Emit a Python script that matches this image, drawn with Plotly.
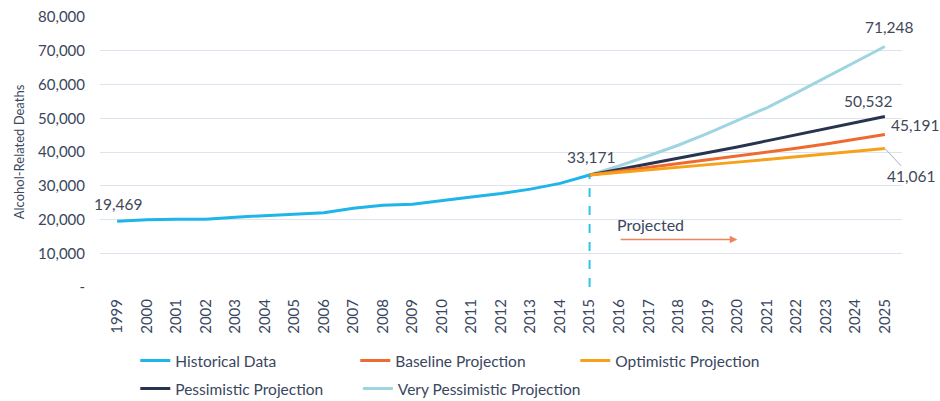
import plotly.graph_objects as go

years_hist = list(range(1999, 2016))
historical = [19469, 19900, 20100, 20100, 20700, 21100, 21700, 22000, 23300,
              24200, 24500, 25700, 26700, 27700, 29000, 30700, 33171]

years_proj = list(range(2015, 2026))
baseline = [33171, 34300, 35400, 36500, 37600, 38700, 39900, 41100, 42400, 43700, 45191]
optimistic = [33171, 33900, 34700, 35400, 36200, 37000, 37800, 38600, 39400, 40200, 41061]
pessimistic = [33171, 34800, 36500, 38200, 39800, 41500, 43300, 45100, 46900, 48700, 50532]
very_pessimistic = [33171, 35900, 38900, 42000, 45500, 49200, 53100, 57500, 62000, 66600, 71248]

all_years = list(range(1999, 2026))
y_ticks = [0, 10000, 20000, 30000, 40000, 50000, 60000, 70000, 80000]
y_tick_text = ["-"] + [f"{v:,}" for v in y_ticks[1:]]

TEXT = "#3a4660"
FONT = "Lato"

fig = go.Figure()

# vertical dashed divider at the last historical year
fig.add_trace(go.Scatter(
    x=[years_hist[-1], years_hist[-1]], y=[0, historical[-1]],
    mode="lines", line=dict(color="#2ec2ec", width=2, dash="dash"),
    showlegend=False, hoverinfo="skip",
))

# drawing order (back to front); legend = which legend row/cell
series = [
    ("Very Pessimistic Projection", years_proj, very_pessimistic, "#9fd5e1", "legend3", 1),
    ("Pessimistic Projection", years_proj, pessimistic, "#27334f", "legend2", 1),
    ("Baseline Projection", years_proj, baseline, "#ee6a2f", "legend", 2),
    ("Optimistic Projection", years_proj, optimistic, "#f7a11a", "legend", 3),
    ("Historical Data", years_hist, historical, "#1fb5e8", "legend", 1),
]
for name, xs, ys, col, leg, rank in series:
    fig.add_trace(go.Scatter(
        x=xs, y=ys, mode="lines", name=name,
        line=dict(color=col, width=3), legend=leg, legendrank=rank,
    ))

lab_font = dict(family=FONT, size=15.5, color="#404858")


def label(x, y, xshift=0, yshift=14):
    fig.add_annotation(x=x, y=y, text=f"{y:,}", showarrow=False,
                       xshift=xshift, yshift=yshift, font=lab_font)


label(years_hist[0], historical[0], xshift=1, yshift=17)
label(years_hist[-1], historical[-1], xshift=1, yshift=18)
label(years_proj[-1], very_pessimistic[-1], xshift=4, yshift=20)
label(years_proj[-1], pessimistic[-1], xshift=-17, yshift=15)
label(years_proj[-1], baseline[-1], xshift=30, yshift=9)
fig.add_annotation(x=years_proj[-1], y=optimistic[-1], text=f"{optimistic[-1]:,}",
                   showarrow=True, arrowhead=0, arrowwidth=1, arrowcolor="#9fb0cc",
                   ax=26, ay=28, font=lab_font)

# "Projected" arrow
fig.add_annotation(x=2020, y=14100, ax=2016, ay=14100, xref="x", yref="y",
                   axref="x", ayref="y", text="", showarrow=True,
                   arrowhead=2, arrowsize=1, arrowwidth=1.5, arrowcolor="#f0845a")
fig.add_annotation(x=2016, y=18600, text="Projected", showarrow=False, xanchor="left",
                   xshift=-4, font=dict(family=FONT, size=16, color=TEXT))

leg_common = dict(orientation="h", xanchor="left", yanchor="middle", yref="container",
                  entrywidthmode="pixels", traceorder="normal",
                  font=dict(family=FONT, size=15.5, color=TEXT), bgcolor="rgba(0,0,0,0)")

fig.update_layout(
    width=940, height=401,
    margin=dict(l=100, r=38, t=17, b=114),
    paper_bgcolor="white", plot_bgcolor="white",
    font=dict(family=FONT, color=TEXT),
    legend=dict(x=0.044, y=0.1, entrywidth=175, **leg_common),
    legend2=dict(x=0.044, y=0.03, entrywidth=175, **leg_common),
    legend3=dict(x=0.3215, y=0.03, entrywidth=200, **leg_common),
)
fig.update_xaxes(
    range=[1998.42, 2025.58], tickmode="array", tickvals=all_years,
    ticktext=[str(y) for y in all_years], tickangle=-90,
    tickfont=dict(family=FONT, size=15, color=TEXT), ticklabelstandoff=8,
    showgrid=False, zeroline=False, showline=False, ticks="", automargin=False,
)
fig.update_yaxes(
    range=[0, 80000], tickmode="array", tickvals=y_ticks, ticktext=y_tick_text,
    tickfont=dict(family=FONT, size=15, color=TEXT), ticklabelstandoff=14,
    gridcolor="#dde4f0", gridwidth=1, zeroline=False, showline=False, automargin=False,
    title=dict(text="Alcohol-Related Deaths", font=dict(family=FONT, size=13, color=TEXT),
               standoff=10),
)

fig.write_html("out.html", config={"displayModeBar": False},
               post_script="document.body.style.margin='0';")
